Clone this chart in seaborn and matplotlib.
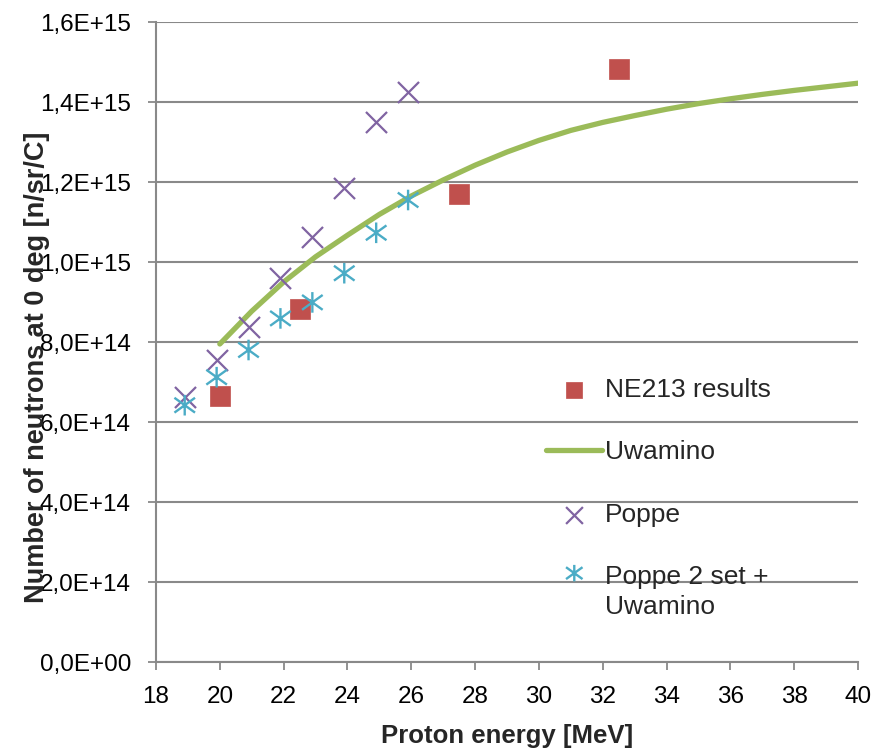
import numpy as np
import pandas as pd
import matplotlib
matplotlib.use("Agg")
import matplotlib.pyplot as plt
from matplotlib.path import Path
from matplotlib.ticker import FuncFormatter, MultipleLocator
from matplotlib.legend_handler import HandlerPathCollection
import seaborn as sns

# --- data ---------------------------------------------------------------
ne213_energy = [20.0, 22.5, 27.5, 32.5]
ne213_yield = [6.65e14, 8.83e14, 1.170e15, 1.482e15]

uwamino_energy = [20, 21, 22, 23, 24, 25, 26, 27, 28, 29, 30,
                  31, 32, 33, 34, 35, 36, 37, 38, 39, 40]
uwamino_yield = [7.95e14, 8.77e14, 9.50e14, 1.013e15, 1.067e15, 1.119e15,
                 1.165e15, 1.205e15, 1.242e15, 1.275e15, 1.304e15, 1.329e15,
                 1.349e15, 1.366e15, 1.382e15, 1.396e15, 1.408e15, 1.419e15,
                 1.429e15, 1.438e15, 1.447e15]

poppe_energy = [18.9, 19.9, 20.9, 21.9, 22.9, 23.9, 24.9, 25.9]
poppe_yield = [6.63e14, 7.55e14, 8.38e14, 9.59e14, 1.062e15, 1.184e15,
               1.349e15, 1.424e15]

poppe2_energy = [18.9, 19.9, 20.9, 21.9, 22.9, 23.9, 24.9, 25.9]
poppe2_yield = [6.42e14, 7.12e14, 7.80e14, 8.59e14, 8.99e14, 9.72e14,
                1.073e15, 1.155e15]

x_ticks = list(range(18, 41, 2))

# --- style --------------------------------------------------------------
sns.set_theme(style="white")
plt.rcParams["font.family"] = ["Liberation Sans", "DejaVu Sans"]

RED = "#C0504D"
GREEN = "#9BBB59"
PURPLE = "#8064A2"
CYAN = "#4BACC6"
GRAY = "#898989"

# Excel-style asterisk: a diagonal cross with a vertical bar through it
asterisk = Path(
    [(0, -1), (0, 1), (-1, -0.72), (1, 0.72), (-1, 0.72), (1, -0.72)],
    [Path.MOVETO, Path.LINETO, Path.MOVETO, Path.LINETO, Path.MOVETO, Path.LINETO],
)

fig = plt.figure(figsize=(8.84, 7.49), dpi=100)
ax = fig.add_axes([156 / 884, 1 - 662 / 749, 702 / 884, 640 / 749])

ne = pd.DataFrame({"energy": ne213_energy, "yield": ne213_yield})
uw = pd.DataFrame({"energy": uwamino_energy, "yield": uwamino_yield})
pp = pd.DataFrame({"energy": poppe_energy, "yield": poppe_yield})
p2 = pd.DataFrame({"energy": poppe2_energy, "yield": poppe2_yield})

sns.scatterplot(data=ne, x="energy", y="yield", ax=ax, marker="s", s=200,
                color=RED, edgecolor=RED, linewidth=0.5, label="NE213 results",
                zorder=3)
sns.lineplot(data=uw, x="energy", y="yield", ax=ax, color=GREEN, linewidth=3.8,
             label="Uwamino", zorder=4, solid_capstyle="round")
sns.scatterplot(data=pp, x="energy", y="yield", ax=ax, marker="x", s=230,
                color=PURPLE, linewidth=1.6, label="Poppe", zorder=5)
sns.scatterplot(data=p2, x="energy", y="yield", ax=ax, marker=asterisk, s=220,
                color=CYAN, edgecolor=CYAN, facecolor="none", linewidth=1.7,
                label="Poppe 2 set +\nUwamino", zorder=6)

ax.set_xlim(18, 40)
ax.set_ylim(0, 1.6e15)
ax.set_xticks(x_ticks)
ax.yaxis.set_major_locator(MultipleLocator(2e14))
ax.yaxis.set_major_formatter(
    FuncFormatter(lambda v, _: f"{v:.1E}".replace(".", ","))
)

ax.grid(axis="y", color=GRAY, linewidth=1.5)
ax.grid(axis="x", visible=False)
ax.set_axisbelow(True)
for side in ("top", "right"):
    ax.spines[side].set_visible(False)
for side in ("left", "bottom"):
    ax.spines[side].set_color(GRAY)
    ax.spines[side].set_linewidth(1.5)

ax.tick_params(axis="both", which="major", direction="out", length=6,
               width=1.3, color=GRAY, labelsize=17.5, labelcolor="black",
               bottom=True, left=True)
ax.tick_params(axis="x", pad=11)
ax.tick_params(axis="y", pad=12)

ax.set_xlabel("Proton energy [MeV]", fontsize=18.5, fontweight="bold",
              labelpad=12)
ax.set_ylabel("Number of neutrons at 0 deg [n/sr/C]", fontsize=19.5,
              fontweight="bold")
ax.yaxis.set_label_coords(-0.151, 0.46)

# legend: the two-line entry keeps its marker level with the first line
handles, labels = ax.get_legend_handles_labels()
ax.legend(handles, labels, loc="upper left", bbox_to_anchor=(0.556, 0.444),
          frameon=False, fontsize=19, handlelength=2.12, handletextpad=0.11,
          labelspacing=1.46, markerscale=0.8, borderpad=0, borderaxespad=0,
          handler_map={handles[3]: HandlerPathCollection(yoffsets=[1.55])})
for txt in ax.get_legend().get_texts():
    txt.set_linespacing(1.3)

fig.savefig("out.png", dpi=100)
